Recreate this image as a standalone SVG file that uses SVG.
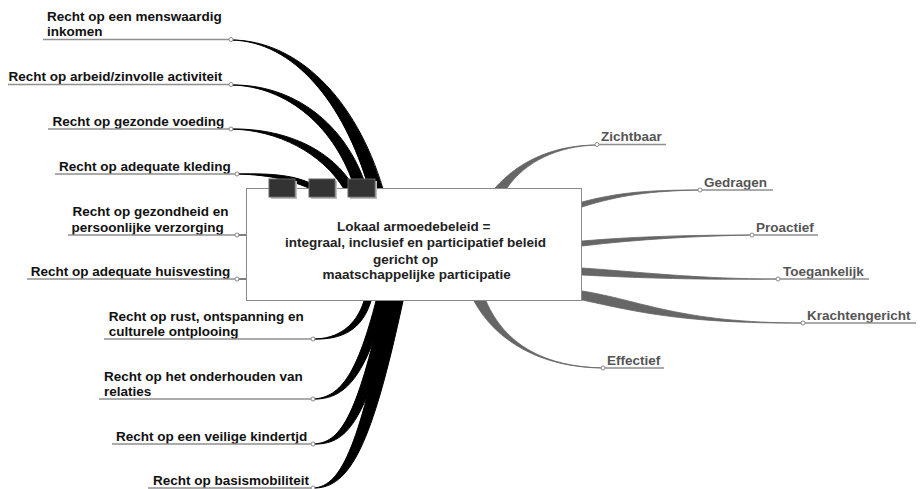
<svg xmlns="http://www.w3.org/2000/svg" width="923" height="489" viewBox="0 0 923 489">
<style>
text{font-family:"Liberation Sans",Arial,sans-serif;font-weight:bold;font-size:13.5px}
.lt{fill:#111}
.rt{fill:#555}
.ct{fill:#222;text-anchor:middle}
.ul{stroke:#8f8f8f;stroke-width:1.5;fill:none}
.dot{fill:#fff;stroke:#888;stroke-width:1}
.bl{fill:#000;stroke:#000;stroke-width:1;stroke-linejoin:round}
.gr{fill:#666;stroke:#666;stroke-width:0.8;stroke-linejoin:round}
.box{fill:#fff;stroke:#8a8a8a;stroke-width:1}
.sq{fill:#333;stroke:#666;stroke-width:1}
.sh{fill:#bdbdbd}
</style>
<rect width="923" height="489" fill="#fff"/>
<g id="connectors">
  <path class="bl" d="M231,40 C297,40 356,98 383,189 L369,189 C344,102 293,41 231,40 Z"/>
  <path class="bl" d="M231,85 C292,84 346,122 367,189 L355,189 C336,128 288,86 231,85 Z"/>
  <path class="bl" d="M231,129 C283,128 332,148 355,189 L344,189 C322,153 278,130 231,129 Z"/>
  <path class="bl" d="M237,174 C275,173 296,176 312,184 L311,189 C293,181 273,175 237,174 Z"/>
  <path d="M237,235 L246,235" stroke="#555" stroke-width="1.5"/>
  <path d="M237,279 L246,279" stroke="#555" stroke-width="1.5"/>
  <path class="bl" d="M313,339 C338,339 356,326 364,301 L371,301 C362,330 342,340 313,339 Z"/>
  <path class="bl" d="M313,399 C342,398 358,370 376,301 L386,301 C366,375 346,400 313,399 Z"/>
  <path class="bl" d="M313,444 C340,443 356,420 383,301 L395,301 C366,425 346,445 313,444 Z"/>
  <path class="bl" d="M313,488 C343,487 360,440 389,301 L403,301 C372,445 350,489 313,488 Z"/>
  <path class="gr" d="M495,188 C520,160 555,145 597,145 C557,146 525,162 507,188 Z"/>
  <path class="gr" d="M582,202 C620,192 650,190 700,190 C650,191 620,195 582,207 Z"/>
  <path class="gr" d="M582,241 C640,236 700,235 752,235 C700,236 640,239 582,246 Z"/>
  <path class="gr" d="M582,268 C640,272 700,279 778,279 C700,280 640,278 582,275 Z"/>
  <path class="gr" d="M582,291 C640,300 680,323 803,323 C680,324 630,310 582,300 Z"/>
  <path class="gr" d="M474,301 C495,340 540,368 604,368 C545,367 505,345 486,301 Z"/>
</g>
<g id="center">
  <rect class="box" x="246.5" y="188.5" width="335" height="112"/>
  <rect class="sh" x="271" y="181" width="26" height="18"/>
  <rect class="sq" x="269" y="179" width="26" height="18"/>
  <rect class="sh" x="311" y="181" width="26" height="18"/>
  <rect class="sq" x="309" y="179" width="26" height="18"/>
  <rect class="sh" x="350" y="181" width="27" height="18"/>
  <rect class="sq" x="348" y="179" width="27" height="18"/>
  <text class="ct" x="413.7" y="231">Lokaal armoedebeleid =</text>
  <text class="ct" x="415.5" y="247">integraal, inclusief en participatief beleid</text>
  <text class="ct" x="405.7" y="263.5">gericht op</text>
  <text class="ct" x="416.7" y="279">maatschappelijke participatie</text>
</g>
<g id="n1"><text class="lt" x="47" y="21">Recht op een menswaardig</text><text class="lt" x="47" y="36">inkomen</text><path class="ul" d="M43,39.5 H229"/><circle class="dot" cx="231" cy="39.5" r="2"/></g>
<g id="n2"><text class="lt" x="8.5" y="81">Recht op arbeid/zinvolle activiteit</text><path class="ul" d="M8,84.5 H229"/><circle class="dot" cx="231" cy="84.5" r="2"/></g>
<g id="n3"><text class="lt" x="52.5" y="125.5">Recht op gezonde voeding</text><path class="ul" d="M48,129 H229"/><circle class="dot" cx="231" cy="129" r="2"/></g>
<g id="n4"><text class="lt" x="59" y="170.5">Recht op adequate kleding</text><path class="ul" d="M55,174 H235"/><circle class="dot" cx="237" cy="174" r="2"/></g>
<g id="n5"><text class="lt" x="72.5" y="216">Recht op gezondheid en</text><text class="lt" x="71.5" y="231.5">persoonlijke verzorging</text><path class="ul" d="M68,235 H235"/><circle class="dot" cx="237" cy="235" r="2"/></g>
<g id="n6"><text class="lt" x="30.7" y="275.5">Recht op adequate huisvesting</text><path class="ul" d="M27,279 H235"/><circle class="dot" cx="237" cy="279" r="2"/></g>
<g id="n7"><text class="lt" x="108.7" y="320.5">Recht op rust, ontspanning en</text><text class="lt" x="108.7" y="335.5">culturele ontplooing</text><path class="ul" d="M104,339 H311"/><circle class="dot" cx="313" cy="339" r="2"/></g>
<g id="n8"><text class="lt" x="104" y="380.5">Recht op het onderhouden van</text><text class="lt" x="104" y="395.5">relaties</text><path class="ul" d="M99,399 H311"/><circle class="dot" cx="313" cy="399" r="2"/></g>
<g id="n9"><text class="lt" x="116" y="440.5">Recht op een veilige kindertjd</text><path class="ul" d="M112,444 H311"/><circle class="dot" cx="313" cy="444" r="2"/></g>
<g id="n10"><text class="lt" x="153" y="484.5">Recht op basismobiliteit</text><path class="ul" d="M148,488 H311"/><circle class="dot" cx="313" cy="488" r="2"/></g>
<g id="r1"><text class="rt" x="601" y="141">Zichtbaar</text><path class="ul" d="M599,144.5 H666"/><circle class="dot" cx="597" cy="144.5" r="2"/></g>
<g id="r2"><text class="rt" x="704" y="186.5">Gedragen</text><path class="ul" d="M702,190 H773"/><circle class="dot" cx="700" cy="190" r="2"/></g>
<g id="r3"><text class="rt" x="756" y="231.5">Proactief</text><path class="ul" d="M754,235 H818"/><circle class="dot" cx="752" cy="235" r="2"/></g>
<g id="r4"><text class="rt" x="783" y="275.5">Toegankelijk</text><path class="ul" d="M780,279 H869"/><circle class="dot" cx="778" cy="279" r="2"/></g>
<g id="r5"><text class="rt" x="807" y="319.5">Krachtengericht</text><path class="ul" d="M805,323 H916"/><circle class="dot" cx="803" cy="323" r="2"/></g>
<g id="r6"><text class="rt" x="607" y="364.5">Effectief</text><path class="ul" d="M605,368 H664"/><circle class="dot" cx="603" cy="368" r="2"/></g>
</svg>
